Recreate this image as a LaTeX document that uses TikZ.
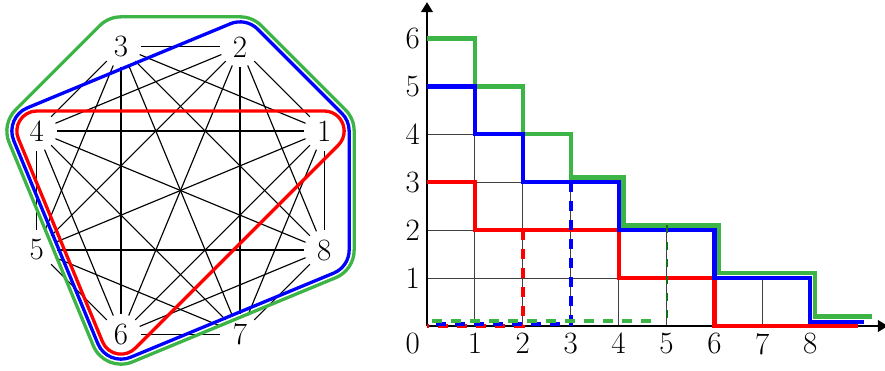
\documentclass[tikz,border=0pt]{standalone}
\usetikzlibrary{calc,arrows.meta}
\definecolor{hgreen}{RGB}{60,180,70}
\definecolor{dgreen}{RGB}{20,110,30}
\begin{document}
\begin{tikzpicture}[x=1pt,y=1pt,
  vtx/.style={circle,inner sep=0pt,minimum size=40pt,font=\fontsize{31}{36}\selectfont},
  edge/.style={line width=1.15pt},
  hull/.style={line width=3.3pt,line join=round},
  lbl/.style={inner sep=7pt,font=\fontsize{31}{36}\selectfont},
  stair/.style={line width=4.2pt},
  dsh/.style={line width=3.8pt,dash pattern=on 10pt off 9pt},
  gridline/.style={line width=0.9pt,black!75}
]
\useasboundingbox (0,0) rectangle (885,370);

% graph K8
\node[vtx] (n1) at (324.16,239.01) {1};
\node[vtx] (n2) at (240.01,323.16) {2};
\node[vtx] (n3) at (120.99,323.16) {3};
\node[vtx] (n4) at (36.84,239.01) {4};
\node[vtx] (n5) at (36.84,119.99) {5};
\node[vtx] (n6) at (120.99,35.84) {6};
\node[vtx] (n7) at (240.01,35.84) {7};
\node[vtx] (n8) at (324.16,119.99) {8};

\foreach \i in {1,...,7}{
  \pgfmathtruncatemacro\s{\i+1}
  \foreach \j in {\s,...,8}{\draw[edge] (n\i) -- (n\j);}
}

% hulls
\draw[hull,red] ($(n1.center)+(-45:20)$) arc[start angle=-45,end angle=90,radius=20]
  -- ($(n4.center)+(90:20)$) arc[start angle=90,end angle=202.5,radius=20]
  -- ($(n6.center)+(202.5:20)$) arc[start angle=202.5,end angle=315,radius=20] -- cycle;
\draw[hull,blue] ($(n1.center)+(0:25)$) arc[start angle=0,end angle=45,radius=25]
  -- ($(n2.center)+(45:25)$) arc[start angle=45,end angle=112.5,radius=25]
  -- ($(n4.center)+(112.5:25)$) arc[start angle=112.5,end angle=202.5,radius=25]
  -- ($(n6.center)+(202.5:25)$) arc[start angle=202.5,end angle=292.5,radius=25]
  -- ($(n8.center)+(292.5:25)$) arc[start angle=292.5,end angle=360,radius=25] -- cycle;
\draw[hull,hgreen] ($(n1.center)+(0:30)$) arc[start angle=0,end angle=45,radius=30]
  -- ($(n2.center)+(45:30)$) arc[start angle=45,end angle=90,radius=30]
  -- ($(n3.center)+(90:30)$) arc[start angle=90,end angle=135,radius=30]
  -- ($(n4.center)+(135:30)$) arc[start angle=135,end angle=202.5,radius=30]
  -- ($(n6.center)+(202.5:30)$) arc[start angle=202.5,end angle=292.5,radius=30]
  -- ($(n8.center)+(292.5:30)$) arc[start angle=292.5,end angle=360,radius=30] -- cycle;

% chart
\begin{scope}[shift={(427,44)},x=47.9pt,y=47.9pt]
  \foreach \i/\h in {0/5,1/4,2/3,3/3,4/2,5/2,6/1,7/1}
    \draw[gridline,step=1] (\i,0) grid (\i+1,\h);
  \coordinate (o) at (0,0);
  \coordinate (xend) at (9.62,0);
  \coordinate (yend) at (0,6.76);
  \draw[line width=1.2pt,-{Triangle[length=10pt,width=12pt]}] (o) -- (xend);
  \draw[line width=1.2pt,-{Triangle[length=10pt,width=12pt]}] (o) -- (yend);
  \foreach \k in {1,...,6} \node[lbl,anchor=east] (y\k) at (0,\k) {\k};
  \foreach \k in {1,...,8} \node[lbl,anchor=north] (x\k) at (\k,0) {\k};
  \node[lbl,anchor=north east] (zero) at (0,0) {0};

  \draw[stair,hgreen] (0,6) -| (1,5) -| (2,4) -| (3,3.1) -| (4.1,2.1) -| (6.1,1.1) -| (8.1,0.2) -- (9.3,0.2);
  \draw[stair,red] (0,3) -| (1,2) -| (4,1) -| (6,0) -- (9,0);
  \draw[stair,blue] (0,5) -| (1,4) -| (2,3) -| (4,2) -| (6,1) -| (8,0.09) -- (9.12,0.09);

  \draw[dsh,red] (2,2) -- (2,0) -- (0,0);
  \draw[dsh,blue] (3,3) -- (3,0.05) -- (0,0.05);
  \draw[dsh,hgreen] (0.1,0.1) -- (4.85,0.1);
  \draw[line width=2pt,dgreen,dash pattern=on 8pt off 9pt] (5,2.1) -- (5,0.1);
\end{scope}
\end{tikzpicture}
\end{document}
